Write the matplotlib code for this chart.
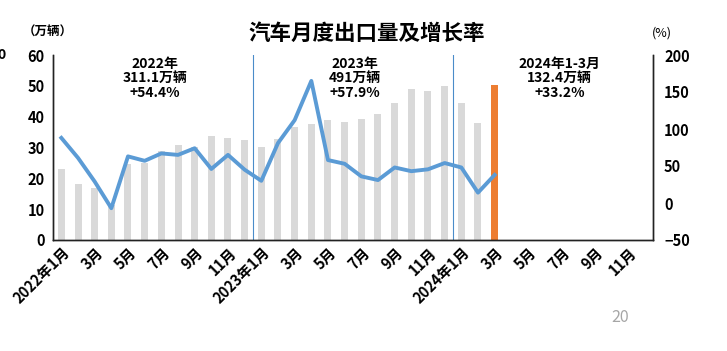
import matplotlib
matplotlib.use("Agg")
import matplotlib.pyplot as plt
import numpy as np

plt.rcParams['font.family'] = ['Noto Sans CJK SC', 'DejaVu Sans']

# ---- data ----
months = ([f"2022年{m}月" for m in range(1, 13)] +
          [f"2023年{m}月" for m in range(1, 13)] +
          [f"2024年{m}月" for m in range(1, 13)])
tick_labels = ["2022年1月", "3月", "5月", "7月", "9月", "11月",
               "2023年1月", "3月", "5月", "7月", "9月", "11月",
               "2024年1月", "3月", "5月", "7月", "9月", "11月"]
exports = [23.1, 18.1, 16.8, 11.4, 24.5, 24.9, 29.0, 30.8, 30.1, 33.7, 33.1, 32.4,
           30.1, 32.9, 36.5, 37.6, 38.9, 38.3, 39.2, 40.9, 44.5, 48.9, 48.4, 49.9,
           44.3, 37.8, 50.3]
growth = [88, 61, 29, -7, 63, 57, 67, 65, 74, 46, 65, 45,
          30, 81, 112, 165, 58, 53, 36, 31, 48, 43, 45.5, 54,
          48, 14, 38]
annotations = ["2022年\n311.1万辆\n+54.4%", "2023年\n491万辆\n+57.9%",
               "2024年1-3月\n132.4万辆\n+33.2%"]
annot_pos = [5.6, 17.6, 29.9]

# ---- figure ----
fig = plt.figure(figsize=(7.27, 3.51), dpi=100)
ax = fig.add_axes([53/727, 1-240/351, 600/727, 185/351])
ax2 = ax.twinx()

x = np.arange(len(exports))
colors = ['#d9d9d9'] * (len(exports) - 1) + ['#ed7d31']
ax.bar(x, exports, width=0.42, color=colors, zorder=2)
ax.set_xlim(-0.5, len(months) - 0.5)
ax.set_ylim(0, 60)
ax.set_yticks(range(0, 61, 10))

ax2.plot(x, growth, color='#5b9bd5', lw=2.8, zorder=3)
ax2.set_ylim(-50, 200)
ax2.set_yticks(range(-50, 201, 50))

for xv in (11.5, 23.5):
    ax.axvline(xv, color='#4a8cc9', lw=0.8, zorder=1)

ax.set_xticks(range(0, 36, 2))
ax.set_xticklabels(tick_labels, rotation=45, ha='right', rotation_mode='anchor',
                   fontsize=9.5, fontweight='heavy')
for a in (ax, ax2):
    a.tick_params(length=0, labelsize=10.5)
    for lab in a.get_yticklabels():
        lab.set_fontweight('heavy')
    a.spines['top'].set_visible(False)
    for s in ('left', 'right', 'bottom'):
        a.spines[s].set_color('#222222')
        a.spines[s].set_linewidth(1.0)
ax.tick_params(axis='x', pad=3)
ax.tick_params(axis='y', pad=6)
ax2.tick_params(axis='y', pad=8)

for txt, xp in zip(annotations, annot_pos):
    ax.text(xp, 59.5, txt, ha='center', va='top', fontsize=10, fontweight='heavy',
            linespacing=1.05)

fig.text(367/727, 1-33/351, "汽车月度出口量及增长率", ha='center', va='center',
         fontsize=15.5, fontweight='heavy')
fig.text(48/727, 1-32/351, "（万辆）", ha='center', va='center', fontsize=9,
         fontweight='heavy')
fig.text(662/727, 1-33/351, "(%)", ha='center', va='center', fontsize=9)
fig.text(620/727, 1-318/351, "20", ha='center', va='center', fontsize=11.5,
         color='#a6a6a6')
fig.text(-3/727, 1-55/351, "0", ha='left', va='center', fontsize=10,
         fontweight='heavy')

fig.savefig("out.png", dpi=100)
